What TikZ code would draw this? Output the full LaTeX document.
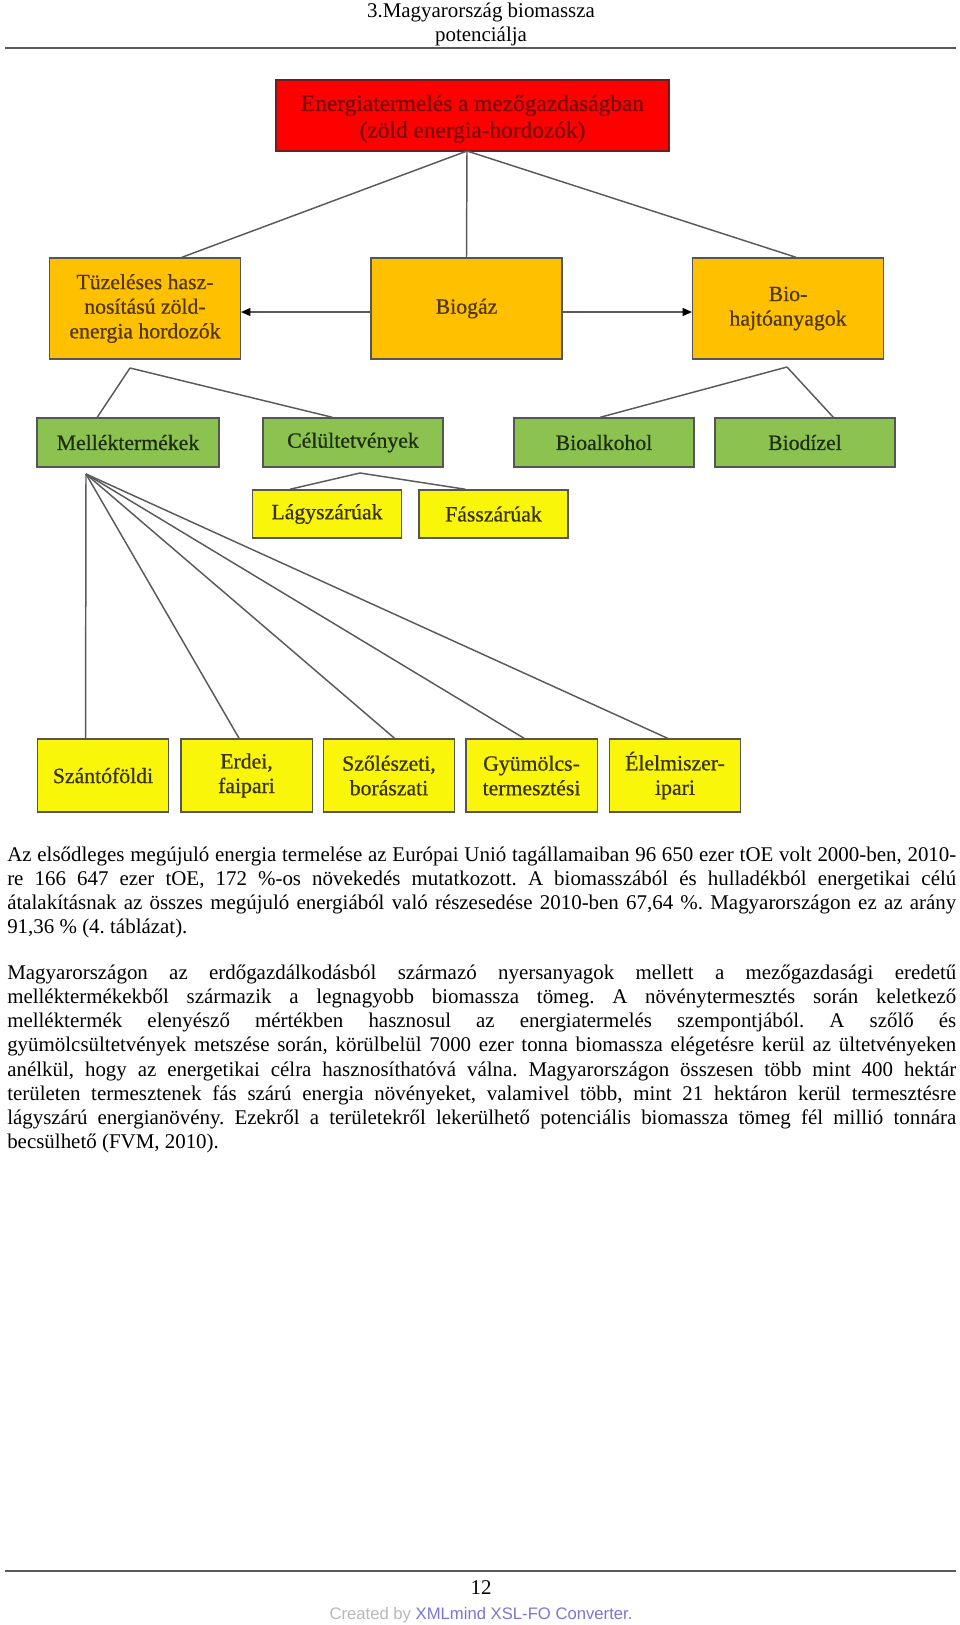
\documentclass[tikz,border=0pt]{standalone}
\usepackage{fontspec}
\setmainfont{Liberation Serif}
\newfontfamily\footfont{Liberation Sans}
\newfontfamily\diagfont{Liberation Serif}[FakeBold=0.6]
\usetikzlibrary{arrows.meta,calc}
\definecolor{redfill}{RGB}{254,0,0}
\definecolor{redtext}{RGB}{120,10,10}
\definecolor{redline}{RGB}{110,30,30}
\definecolor{orfill}{RGB}{255,192,0}
\definecolor{ortext}{RGB}{80,55,5}
\definecolor{grfill}{RGB}{140,194,80}
\definecolor{grtext}{RGB}{30,45,15}
\definecolor{yefill}{RGB}{250,246,10}
\definecolor{yetext}{RGB}{55,50,0}
\definecolor{edge}{RGB}{90,90,90}
\definecolor{boxline}{RGB}{85,85,85}
\definecolor{rulegray}{RGB}{90,90,90}
\definecolor{footgray}{RGB}{185,185,185}
\definecolor{footblue}{RGB}{120,120,210}
\begin{document}
\begin{tikzpicture}[x=0.75pt,y=-0.75pt,
  box/.style={draw=boxline, line width=1.1pt, inner sep=0pt, align=center,
    font=\diagfont\fontsize{16.3}{18.4}\selectfont},
  redbox/.style={box, fill=redfill, draw=redline, text=redtext,
    minimum width=294.75pt, minimum height=53.25pt,
    font=\diagfont\fontsize{17.5}{20}\selectfont},
  orbox/.style={box, fill=orfill, text=ortext, minimum width=143pt, minimum height=75.75pt},
  grbox/.style={box, fill=grfill, text=grtext, minimum width=135pt, minimum height=36.75pt},
  yebox/.style={box, fill=yefill, text=yetext, minimum width=111.5pt, minimum height=36pt},
  lowbox/.style={box, fill=yefill, text=yetext, minimum width=98.6pt, minimum height=54.75pt},
  conn/.style={draw=edge, line width=1.1pt},
  arr/.style={conn, -{Triangle[length=7pt,width=6pt,color=black]}},
  bodytext/.style={anchor=base west, inner sep=0pt},
  headtext/.style={anchor=base, inner sep=0pt, font=\fontsize{15.7}{18}\selectfont},
  pagerule/.style={draw=rulegray, line width=1.5pt}
]
\fill[white] (0,0) rectangle (960,1625);
\useasboundingbox (0,0) rectangle (960,1625);

% header
\node[headtext] (h1) at (481,17.5) {3.Magyarország biomassza};
\node[headtext] (h2) at (481,41) {potenciálja};
\draw[pagerule] (5,48) -- (956,48);

% diagram boxes
\node[redbox] (red) at (472.5,115.5) {\rule{0pt}{17pt}Energiatermelés a mezőgazdaságban\\(zöld energia-hordozók)};

\node[orbox] (tuz) at (145,308.5) {Tüzeléses hasz-\\nosítású zöld-\\energia hordozók};
\node[orbox] (biogaz) at (466.5,308.5) {Biogáz};
\node[orbox] (biohajto) at (788,308.5) {Bio-\\hajtóanyagok};

\node[grbox, minimum width=136.5pt] (mell) at (128,442.5) {Melléktermékek};
\node[grbox] (cel) at (353,442.5) {Célültetvények};
\node[grbox] (bioalk) at (604,442.5) {Bioalkohol};
\node[grbox] (biodiz) at (805,442.5) {Biodízel};

\node[yebox] (lagy) at (327,514) {Lágyszárúak};
\node[yebox] (fas) at (493.5,514) {Fásszárúak};

\node[lowbox] (szanto) at (103,775.5) {Szántóföldi};
\node[lowbox] (erdei) at (246.5,775.5) {Erdei,\\faipari};
\node[lowbox] (szolesz) at (389,775.5) {Szőlészeti,\\borászati};
\node[lowbox] (gyum) at (531.5,775.5) {Gyümölcs-\\termesztési};
\node[lowbox] (elelm) at (675,775.5) {Élelmiszer-\\ipari};

% branch points
\coordinate (r0) at (467,151);
\coordinate (o1) at (130,368);
\coordinate (o3) at (787,367);
\coordinate (g2) at (360,473);
\coordinate (g1) at (86,474);

% connectors
\draw[conn] (r0) -- ($(tuz.north west)+(133,0)$);
\draw[conn] (r0) -- (biogaz.north);
\draw[conn] (r0) -- ($(biohajto.north west)+(104,0)$);

\draw[arr] ($(biogaz.west)+(0,3.5)$) -- ($(tuz.east)+(0,3.5)$);
\draw[arr] ($(biogaz.east)+(0,3.5)$) -- ($(biohajto.west)+(0,3.5)$);

\draw[conn] (o1) -- ($(mell.north west)+(61,0)$);
\draw[conn] (o1) -- ($(cel.north west)+(70,0)$);
\draw[conn] (o3) -- ($(bioalk.north west)+(87,0)$);
\draw[conn] (o3) -- ($(biodiz.north west)+(119,0)$);

\draw[conn] (g2) -- ($(lagy.north west)+(38,0)$);
\draw[conn] (g2) -- ($(fas.north west)+(47,0)$);

\draw[conn] (g1) -- ($(szanto.north west)+(49,0)$);
\draw[conn] (g1) -- ($(erdei.north west)+(59,0)$);
\draw[conn] (g1) -- ($(szolesz.north west)+(72,0)$);
\draw[conn] (g1) -- ($(gyum.north west)+(59,0)$);
\draw[conn] (g1) -- ($(elelm.north west)+(59,0)$);

% body text
\node[bodytext] (p1) at (7,861) {\parbox[t]{711.75pt}{\fontsize{15.7}{18.2}\selectfont\frenchspacing\tolerance=10000\hyphenpenalty=10000\parindent=0pt
Az elsődleges megújuló energia termelése az Európai Unió tagállamaiban 96 650 ezer tOE volt 2000-ben, 2010-\linebreak
re 166 647 ezer tOE, 172 \%-os növekedés mutatkozott. A biomasszából és hulladékból energetikai célú\linebreak
átalakításnak az összes megújuló energiából való részesedése 2010-ben 67,64 \%. Magyarországon ez az arány\linebreak
91,36 \% (4. táblázat).}};

\node[bodytext] (p2) at (7,979) {\parbox[t]{711.75pt}{\fontsize{15.7}{18.2}\selectfont\frenchspacing\tolerance=10000\hyphenpenalty=10000\parindent=0pt
Magyarországon az erdőgazdálkodásból származó nyersanyagok mellett a mezőgazdasági eredetű\linebreak
melléktermékekből származik a legnagyobb biomassza tömeg. A növénytermesztés során keletkező\linebreak
melléktermék elenyésző mértékben hasznosul az energiatermelés szempontjából. A szőlő és\linebreak
gyümölcsültetvények metszése során, körülbelül 7000 ezer tonna biomassza elégetésre kerül az ültetvényeken\linebreak
anélkül, hogy az energetikai célra hasznosíthatóvá válna. Magyarországon összesen több mint 400 hektár\linebreak
területen termesztenek fás szárú energia növényeket, valamivel több, mint 21 hektáron kerül termesztésre\linebreak
lágyszárú energianövény. Ezekről a területekről lekerülhető potenciális biomassza tömeg fél millió tonnára\linebreak
becsülhető (FVM, 2010).}};

% footer
\draw[pagerule] (5,1571) -- (956,1571);
\node[headtext] (pn) at (481,1594) {12};
\node[anchor=base, inner sep=0pt, font=\footfont\fontsize{12.5}{14}\selectfont] (foot) at (481,1619)
  {\textcolor{footgray}{Created by} \textcolor{footblue}{XMLmind XSL-FO Converter.}};
\end{tikzpicture}
\end{document}
